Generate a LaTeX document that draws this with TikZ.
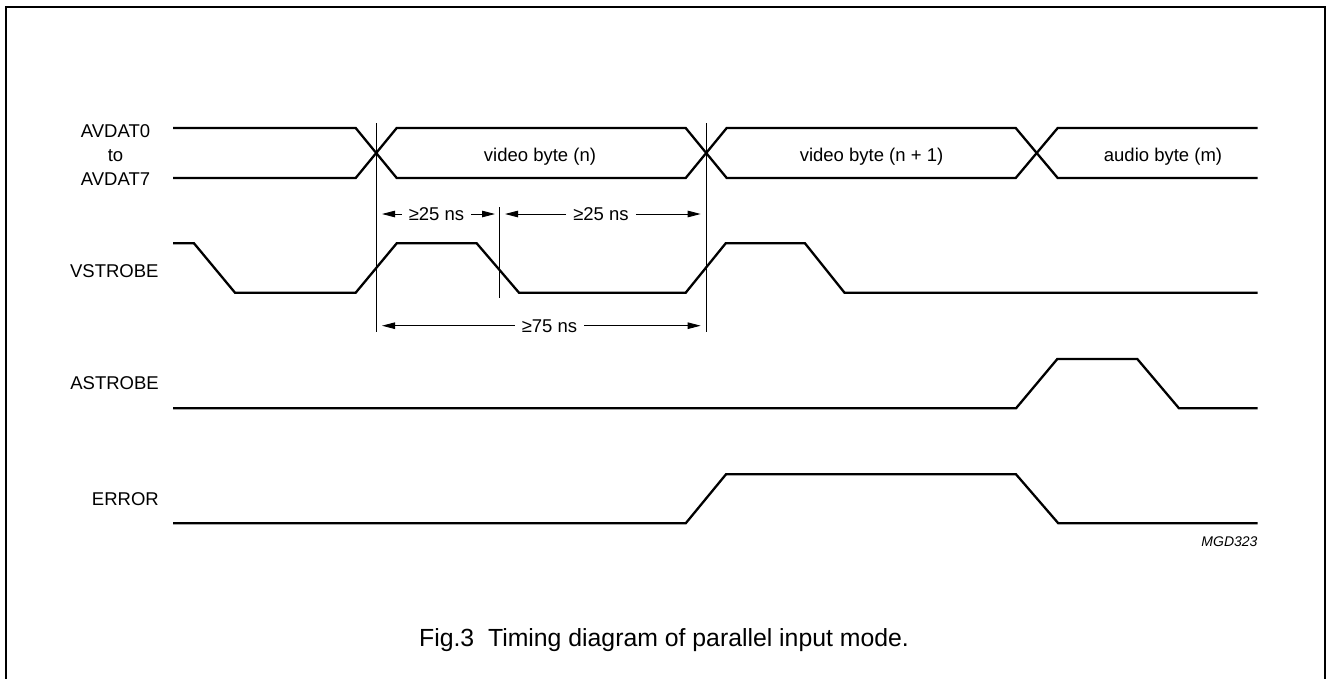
\documentclass[tikz,border=0pt]{standalone}
\usepackage{fontspec}
\setmainfont{Liberation Sans}
\usetikzlibrary{arrows.meta}
\newcommand{\lbfont}{\fontsize{18.5}{22}\selectfont}
\newcommand{\capfont}{\fontsize{24.8}{29}\selectfont}
\newcommand{\idfont}{\fontsize{14}{17}\selectfont\itshape}
\begin{document}
\begin{tikzpicture}[x=1pt,y=-1pt,
  sig/.style={line width=2.3pt, line join=miter},
  guide/.style={line width=0.9pt},
  dim/.style={line width=0.9pt, -{Triangle[length=13pt,width=6.5pt]}},
  lbl/.style={font=\lbfont, inner sep=0pt},
  dimlbl/.style={font=\lbfont, fill=white, inner xsep=7pt, inner ysep=0pt, text height=13pt, text depth=0pt},
  frame/.style={line width=2pt}]
\useasboundingbox (0,0) rectangle (1327,678);
\fill[white] (0,0) rectangle (1327,678);
% frame
\draw[frame] (6,690) -- (6,6.5) -- (1325.3,6.5) -- (1325.3,690);

% labels
\node[lbl, anchor=base] (l0) at (115.5,137.7) {AVDAT0};
\node[lbl, anchor=base] (lto) at (115.5,161) {to};
\node[lbl, anchor=base] (l7) at (115.5,185) {AVDAT7};
\node[lbl, anchor=base east] (lv) at (158.7,277.7) {VSTROBE};
\node[lbl, anchor=base east] (la) at (159,389) {ASTROBE};
\node[lbl, anchor=base east] (le) at (159,505) {ERROR};

% AVDAT bus
\draw[sig] (173,128) -- (355.7,128) -- (396.7,178) -- (685.7,178) -- (726.7,128) -- (1015.7,128) -- (1057.7,178) -- (1257.7,178);
\draw[sig] (173,178) -- (355.7,178) -- (396.7,128) -- (685.7,128) -- (726.7,178) -- (1015.7,178) -- (1057.7,128) -- (1257.7,128);
\node[lbl, anchor=base] (vn) at (540,161) {video byte (n)};
\node[lbl, anchor=base] (vn1) at (871.5,161) {video byte (n + 1)};
\node[lbl, anchor=base] (am) at (1163,161) {audio byte (m)};

% VSTROBE
\draw[sig] (173,243.3) -- (194,243.3) -- (235,292.7) -- (355.7,292.7) -- (396.7,243.3) -- (476.7,243.3) -- (519,292.7) -- (685.7,292.7) -- (725.7,243.3) -- (805,243.3) -- (844.5,292.7) -- (1257.7,292.7);

% ASTROBE
\draw[sig] (173,408.3) -- (1016,408.3) -- (1057.3,359) -- (1137.3,359) -- (1179,408.3) -- (1257.7,408.3);

% ERROR
\draw[sig] (173,523.3) -- (685.7,523.3) -- (726,474.3) -- (1016,474.3) -- (1058.3,523.3) -- (1257.7,523.3);

% guide lines
\coordinate (g1t) at (376,123);
\coordinate (g1b) at (376,332);
\coordinate (g2t) at (706,123);
\coordinate (g2b) at (706,332);
\coordinate (g3t) at (499.3,207);
\coordinate (g3b) at (499.3,298);
\draw[guide] (g1t) -- (g1b);
\draw[guide] (g2t) -- (g2b);
\draw[guide] (g3t) -- (g3b);

% dimensions
\coordinate (a1l) at (382,214);
\coordinate (a1r) at (495,214);
\coordinate (a2l) at (505,214);
\coordinate (a2r) at (700.7,214);
\coordinate (a3l) at (382,325.7);
\coordinate (a3r) at (700.7,325.7);
\node[dimlbl] (d1) at (436.5,214) {≥25 ns};
\node[dimlbl] (d2) at (601,214) {≥25 ns};
\node[dimlbl] (d3) at (549.5,325.7) {≥75 ns};
\draw[dim] (d1.west) -- (a1l);
\draw[dim] (d1.east) -- (a1r);
\draw[dim] (d2.west) -- (a2l);
\draw[dim] (d2.east) -- (a2r);
\draw[dim] (d3.west) -- (a3l);
\draw[dim] (d3.east) -- (a3r);

% id and caption
\node[inner sep=0pt, font=\idfont, anchor=base east] (id) at (1257.7,546.7) {MGD323};
\node[inner sep=0pt, font=\capfont, anchor=base] (cap) at (664,646.7) {Fig.3\ \ Timing diagram of parallel input mode.};
\end{tikzpicture}
\end{document}
